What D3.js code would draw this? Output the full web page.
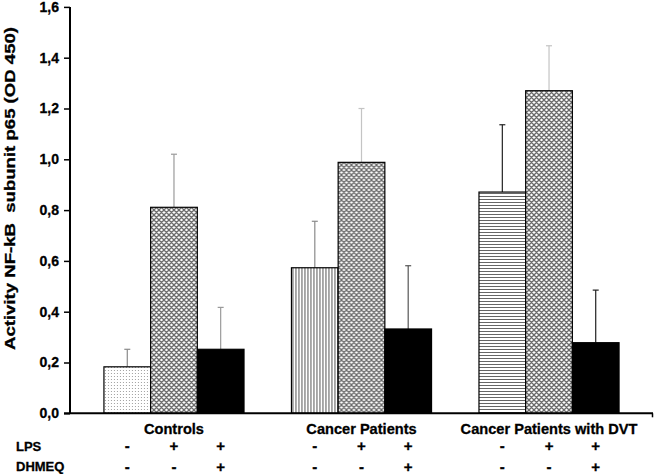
<!DOCTYPE html>
<html><head><meta charset="utf-8">
<script src="https://cdn.jsdelivr.net/npm/d3@7"></script>
<style>body{margin:0;background:#fff}svg{display:block}text{font-family:Arial,"Liberation Sans",sans-serif;font-weight:bold}</style>
</head><body><svg id="c" width="654" height="474"></svg>
<script>
const groups = ["Controls", "Cancer Patients", "Cancer Patients with DVT"];
const conditions = ["base", "LPS", "LPS+DHMEQ"];
const values = [
  [0.183, 0.811, 0.252],
  [0.573, 0.988, 0.332],
  [0.871, 1.270, 0.278]
];
const errors = [
  [0.069, 0.209, 0.165],
  [0.183, 0.212, 0.249],
  [0.265, 0.177, 0.207]
];
const lpsRow = ["-", "+", "+"];
const dhmeqRow = ["-", "-", "+"];
const yTicks = [0, 0.2, 0.4, 0.6, 0.8, 1.0, 1.2, 1.4, 1.6];

const fills = [
  ["url(#dots)", "url(#cross)", "#000"],
  ["url(#vlines)", "url(#cross)", "#000"],
  ["url(#hlines)", "url(#cross)", "#000"]
];
const errColors = [
  ["#8a8a8a", "#9a9a9a", "#9a9a9a"],
  ["#8a8a8a", "#c4c4c4", "#555"],
  ["#222", "#c4c4c4", "#222"]
];

const svg = d3.select("#c");
const defs = svg.append("defs");
let p = defs.append("pattern").attr("id","dots").attr("patternUnits","userSpaceOnUse").attr("width",3).attr("height",3);
p.append("rect").attr("width",3).attr("height",3).attr("fill","#fff");
p.append("rect").attr("x",1).attr("y",1).attr("width",1).attr("height",1).attr("fill","#a0a0a0");
p = defs.append("pattern").attr("id","vlines").attr("patternUnits","userSpaceOnUse").attr("width",3).attr("height",3);
p.append("rect").attr("width",3).attr("height",3).attr("fill","#fff");
p.append("rect").attr("x",1).attr("width",1).attr("height",3).attr("fill","#555");
p = defs.append("pattern").attr("id","hlines").attr("patternUnits","userSpaceOnUse").attr("width",3).attr("height",3);
p.append("rect").attr("width",3).attr("height",3).attr("fill","#fff");
p.append("rect").attr("y",1).attr("width",3).attr("height",1).attr("fill","#666");
p = defs.append("pattern").attr("id","cross").attr("patternUnits","userSpaceOnUse").attr("width",5).attr("height",5);
p.append("rect").attr("width",5).attr("height",5).attr("fill","#fff");
p.append("path").attr("d","M0,0L5,5M5,0L0,5M-1,4L1,6M4,-1L6,1M-1,1L1,-1M4,6L6,4").attr("stroke","#6a6a6a").attr("stroke-width",1.3);

const x0 = d3.scaleBand().domain(groups).range([70, 653]).paddingInner(0.253).paddingOuter(0.181);
const x1 = d3.scaleBand().domain(conditions).range([0, x0.bandwidth()]);
const y = d3.scaleLinear().domain([0, 1.6]).range([413.3, 6.9]);

groups.forEach((g, gi) => {
  const gg = svg.append("g").attr("transform", `translate(${x0(g)},0)`);
  conditions.forEach((c, ci) => {
    const v = values[gi][ci], e = errors[gi][ci];
    const cx = x1(c) + x1.bandwidth() / 2;
    gg.append("line").attr("x1", cx).attr("x2", cx).attr("y1", y(v)).attr("y2", y(v + e))
      .attr("stroke", errColors[gi][ci]).attr("stroke-width", 1.2);
    gg.append("line").attr("x1", cx - 3).attr("x2", cx + 3).attr("y1", y(v + e)).attr("y2", y(v + e))
      .attr("stroke", errColors[gi][ci]).attr("stroke-width", 1.2);
    gg.append("rect").attr("x", x1(c)).attr("y", y(v)).attr("width", x1.bandwidth()).attr("height", y(0) - y(v))
      .attr("fill", fills[gi][ci]).attr("stroke", "#000").attr("stroke-width", 1.2);
  });
});

const yAxis = d3.axisLeft(y).tickValues(yTicks).tickSize(6).tickPadding(5)
  .tickFormat(d => d3.format(".1f")(d).replace(".", ","));
const ya = svg.append("g").attr("transform", "translate(70,0)").call(yAxis);
ya.select(".domain").attr("stroke", "#000").attr("stroke-width", 2).attr("d", `M0,${y(1.6)}V${y(0)}`);
ya.selectAll(".tick line").attr("stroke", "#000").attr("stroke-width", 1.5);
ya.selectAll(".tick text").attr("font-size", 14).attr("font-family", "Arial, 'Liberation Sans', sans-serif")
  .attr("font-weight", "bold").attr("fill", "#000").attr("stroke", "#000").attr("stroke-width", 0.3);

svg.append("line").attr("x1", 64).attr("x2", 653).attr("y1", y(0)).attr("y2", y(0)).attr("stroke", "#000").attr("stroke-width", 2);
svg.append("line").attr("x1", 652.5).attr("x2", 652.5).attr("y1", y(0)).attr("y2", y(0) + 4).attr("stroke", "#000").attr("stroke-width", 1.5);

svg.selectAll(".glabel").data(groups).join("text").attr("class","glabel")
  .attr("x", d => x0(d) + x0.bandwidth() / 2).attr("y", 433.5).attr("text-anchor", "middle")
  .attr("font-size", 14.6).attr("stroke", "#000").attr("stroke-width", 0.3).text(d => d);

svg.append("text").attr("x", 16).attr("y", 450.5).attr("font-size", 13).attr("stroke", "#000").attr("stroke-width", 0.3).text("LPS");
svg.append("text").attr("x", 16).attr("y", 471).attr("font-size", 13).attr("stroke", "#000").attr("stroke-width", 0.3).text("DHMEQ");
groups.forEach(g => {
  conditions.forEach((c, ci) => {
    const cx = x0(g) + x1(c) + x1.bandwidth() / 2;
    svg.append("text").attr("x", cx).attr("y", 451).attr("text-anchor", "middle").attr("font-size", 15).attr("stroke", "#000").attr("stroke-width", 0.3).text(lpsRow[ci]);
    svg.append("text").attr("x", cx).attr("y", 472).attr("text-anchor", "middle").attr("font-size", 15).attr("stroke", "#000").attr("stroke-width", 0.3).text(dhmeqRow[ci]);
  });
});

svg.append("text").attr("transform", "translate(15,188.5) rotate(-90)").attr("text-anchor", "middle")
  .attr("font-size", 14).attr("textLength", 323).attr("lengthAdjust", "spacingAndGlyphs")
  .attr("stroke", "#000").attr("stroke-width", 0.3)
  .style("white-space", "pre").text("Activity NF-kB  subunit p65 (OD 450)");
</script></body></html>
